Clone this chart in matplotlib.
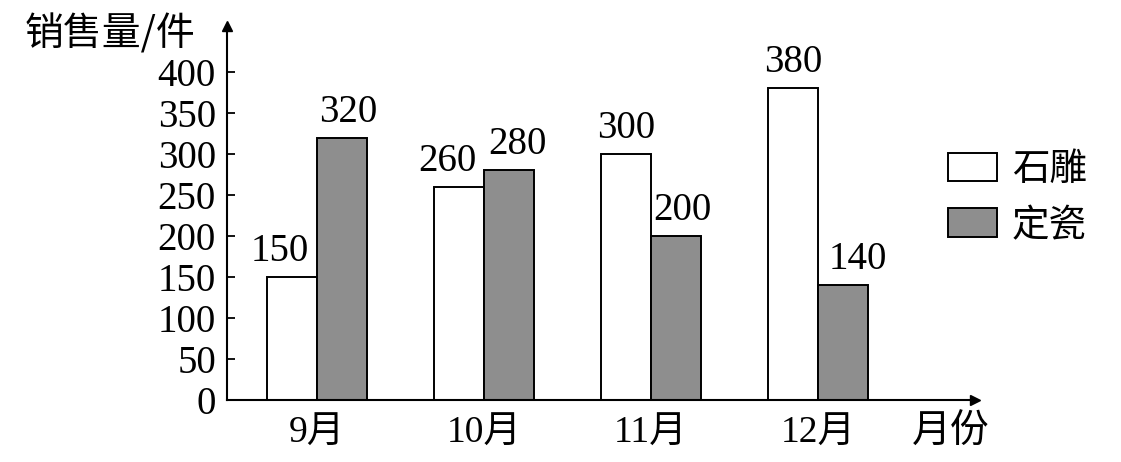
import matplotlib
matplotlib.use("Agg")
import matplotlib.pyplot as plt
from matplotlib.patches import Patch
import numpy as np

months = ["9月", "10月", "11月", "12月"]
stone = [150, 260, 300, 380]      # 石雕
porcelain = [320, 280, 200, 140]  # 定瓷
yticks = [0, 50, 100, 150, 200, 250, 300, 350, 400]
series_names = ["石雕", "定瓷"]

W, H = 1121, 462
fig = plt.figure(figsize=(W / 100, H / 100), dpi=100)
x0, x1 = 227, 975
y0, y1 = 400, 26
ax = fig.add_axes([x0 / W, (H - y0) / H, (x1 - x0) / W, (y0 - y1) / H])

serif = ["Liberation Serif", "DejaVu Serif"]
cjk = ["Noto Sans CJK SC", "DejaVu Sans"]
mix = ["Liberation Serif", "Noto Sans CJK SC"]

px_per_unit = 328 / 400
ax.set_ylim(0, (y0 - y1) / px_per_unit)
spacing = 167
ax.set_xlim(-90 / spacing, -90 / spacing + (x1 - x0) / spacing)

x = np.arange(len(months))
bw = 50 / spacing
ax.bar(x - bw / 2, stone, bw, color="white", edgecolor="black", linewidth=1.4, label=series_names[0])
ax.bar(x + bw / 2, porcelain, bw, color="#8e8e8e", edgecolor="black", linewidth=1.4, label=series_names[1])

# value labels (horizontal nudges in pixels)
off1 = [-12, -12, 0, 0]
off2 = [6, 8, 6, 15]
for i in range(len(months)):
    ax.annotate(str(stone[i]), (x[i] - bw / 2, stone[i]), xytext=(off1[i] * 0.72, 5),
                textcoords="offset points", ha="center", va="bottom", fontsize=28, family=serif)
    ax.annotate(str(porcelain[i]), (x[i] + bw / 2, porcelain[i]), xytext=(off2[i] * 0.72, 5),
                textcoords="offset points", ha="center", va="bottom", fontsize=28, family=serif)

for s in ["top", "right"]:
    ax.spines[s].set_visible(False)
ax.spines["left"].set_linewidth(1.5)
ax.spines["bottom"].set_linewidth(1.5)
# arrows
ax.plot(1, 0, ">k", transform=ax.transAxes, clip_on=False, markersize=7)
ax.plot(0, 1, "^k", transform=ax.transAxes, clip_on=False, markersize=7)

ax.set_yticks(yticks)
ax.set_yticklabels([str(v) for v in yticks], fontsize=28, family=serif)
ax.tick_params(axis="y", direction="in", length=6, width=1.3, pad=8)
ax.set_xticks(x)
ax.set_xticklabels(months, fontsize=27, family=mix)
ax.tick_params(axis="x", length=0, pad=12)

fig.text(25 / W, 1 - 34 / H, "销售量/件", fontsize=28, family=cjk, va="center", ha="left")
fig.text(912 / W, 1 - 432 / H, "月份", fontsize=28, family=cjk, va="center", ha="left")

leg = fig.legend(handles=[Patch(facecolor="white", edgecolor="black", linewidth=1.4, label=series_names[0]),
                          Patch(facecolor="#8e8e8e", edgecolor="black", linewidth=1.4, label=series_names[1])],
                 loc="upper left", bbox_to_anchor=(933 / W, 1 - 135 / H), frameon=False,
                 prop={"family": cjk, "size": 27}, handlelength=1.3, handleheight=0.8,
                 labelspacing=0.45, handletextpad=0.4, borderaxespad=0)

fig.savefig("out.png", dpi=100, facecolor="white")
